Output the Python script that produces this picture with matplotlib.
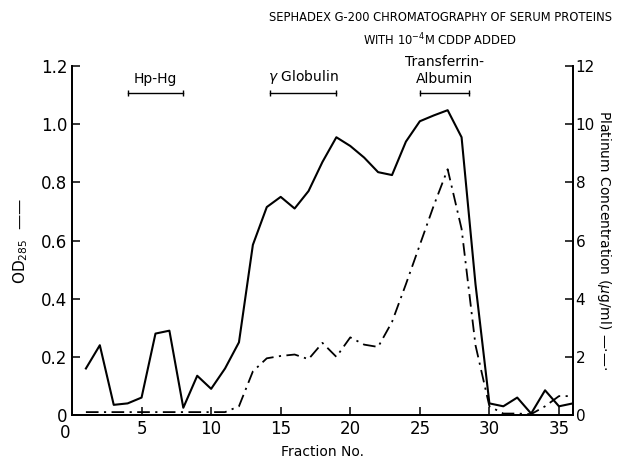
"""
Sephadex G-200 chromatography of serum proteins, 10^-4 M CDDP added
OD285 (solid) and platinum concentration (dash-dot) vs fraction number
"""

import numpy as np
from matplotlib import pylab as plt

# fraction numbers
fraction = list(range(1, 37))

# OD285, left axis
od285 = [0.16, 0.24, 0.035, 0.04, 0.06, 0.28, 0.29, 0.025, 0.135, 0.09,
         0.16, 0.25, 0.585, 0.715, 0.75, 0.71, 0.77, 0.87, 0.955, 0.925,
         0.885, 0.835, 0.825, 0.94, 1.01, 1.03, 1.048, 0.955, 0.45, 0.04,
         0.03, 0.06, 0.005, 0.085, 0.03, 0.04]

# platinum concentration (ug/ml), right axis
platinum = [0.1, 0.1, 0.1, 0.1, 0.1, 0.1, 0.1, 0.1, 0.1, 0.1,
            0.1, 0.3, 1.5, 1.95, 2.03, 2.08, 1.92, 2.48, 2.0, 2.67,
            2.42, 2.34, 3.2, 4.5, 5.85, 7.2, 8.45, 6.4, 2.4, 0.3,
            0.05, 0.05, 0.03, 0.3, 0.65, 0.65]

# protein peaks: label, fraction range
peakNames = ['Hp-Hg', r'$\gamma$ Globulin', 'Transferrin-\nAlbumin']
peakRanges = [(4, 8), (14.2, 19), (25, 28.5)]

xTicks = [5, 10, 15, 20, 25, 30, 35]
odTicks = [0, 0.2, 0.4, 0.6, 0.8, 1.0, 1.2]
odTickLabels = ['0', '0.2', '0.4', '0.6', '0.8', '1.0', '1.2']
ptTicks = [0, 2, 4, 6, 8, 10, 12]

plt.rcParams['font.family'] = ['DejaVu Sans']

fig = plt.figure(figsize=(6.18, 4.68), dpi=100)
ax = fig.add_axes([0.1165, 0.1132, 0.8105, 0.7458])
ax2 = ax.twinx()

ax.plot(fraction, od285, color='black', lw=1.5)
ax2.plot(fraction, platinum, color='black', lw=1.3, linestyle=(0, (7, 3, 1.2, 3)))

ax.set_xlim(0, 36)
ax.set_ylim(0, 1.2)
ax2.set_ylim(0, 12)

for a in (ax, ax2):
    a.spines['top'].set_visible(False)
    for s in ('left', 'right', 'bottom'):
        a.spines[s].set_linewidth(1.3)

ax.set_xticks(xTicks)
ax.set_yticks(odTicks)
ax.set_yticklabels(odTickLabels)
ax2.set_yticks(ptTicks)
ax.tick_params(axis='both', direction='in', length=6, width=1.1, labelsize=12)
ax2.tick_params(axis='y', direction='in', length=6, width=1.1, labelsize=11, pad=2)
ax.text(-0.1, -0.03, '0', transform=ax.transData, ha='right', va='top', fontsize=12)

# peak brackets
for name, (x0, x1) in zip(peakNames, peakRanges):
    ax.plot([x0, x1], [1.107, 1.107], color='black', lw=1.0)
    ax.plot([x0, x1], [1.107, 1.107], color='black', lw=0, marker='|', ms=5, mew=1.0)
    ax.text((x0 + x1) / 2, 1.13, name, ha='center', va='bottom', fontsize=10,
            linespacing=1.3, clip_on=False)

ax.set_xlabel('Fraction No.', fontsize=10, labelpad=5)
ax.set_ylabel(r'OD$_{285}$  ——', fontsize=11, labelpad=8)
ax2.set_ylabel(r'Platinum Concentration ($\mu$g/ml) —·—·', fontsize=10,
               rotation=-90, labelpad=13)

fig.text(0.712, 0.962, 'SEPHADEX G-200 CHROMATOGRAPHY OF SERUM PROTEINS',
         ha='center', va='center', fontsize=8.3)
fig.text(0.712, 0.915, r'WITH 10$^{-4}$M CDDP ADDED',
         ha='center', va='center', fontsize=8.3)

fig.savefig('out.png', dpi=100)
